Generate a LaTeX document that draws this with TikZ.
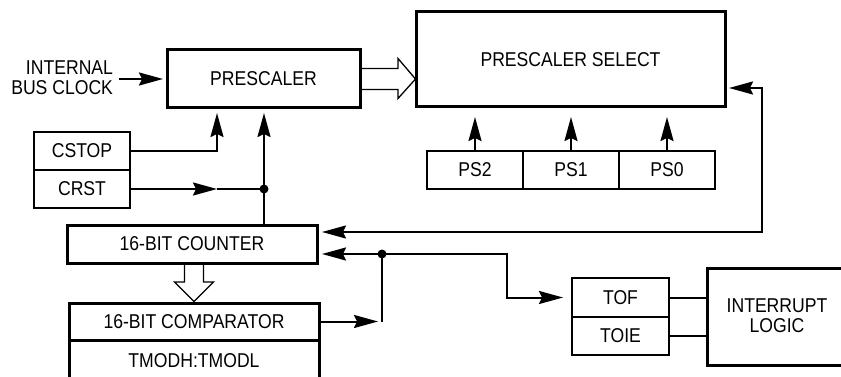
\documentclass[tikz,border=0pt]{standalone}
\usepackage{fontspec}
\setmainfont[FakeStretch=0.88]{Liberation Sans}
\usetikzlibrary{arrows.meta,calc}
\begin{document}
\begin{tikzpicture}[x=1pt,y=-1pt,
  every node/.style={font=\fontsize{20}{20}\selectfont, inner sep=0pt, outer sep=0pt},
  thickbox/.style={draw, line width=3pt},
  thinbox/.style={draw, line width=2pt},
  conn/.style={line width=2pt},
  >={Stealth[length=24pt,width=13pt,inset=3pt]},
  arr/.style={conn, ->},
  hollow/.style={line width=1.3pt, line join=miter}
]
\useasboundingbox (0,0) rectangle (841,377);

% boxes
\node[thickbox, minimum width=193pt, minimum height=58pt] (presc) at (263.5,79) {PRESCALER};
\node[thickbox, minimum width=309pt, minimum height=95pt] (pss) at (570.5,59.5) {PRESCALER SELECT};
\node[align=right, anchor=east] (ibc) at (113,78) {INTERNAL\\BUS CLOCK};
\node[thinbox, minimum width=96pt, minimum height=38pt] (cstop) at (82,151) {CSTOP};
\node[thinbox, minimum width=96pt, minimum height=38pt] (crst) at (82,189) {CRST};
\node[thickbox, minimum width=250pt, minimum height=38pt] (counter) at (192,244) {16-BIT COUNTER};
\node[thickbox, minimum width=250pt, minimum height=37pt] (comp) at (194,321.5) {16-BIT COMPARATOR};
\draw[line width=3pt] (comp.south west) -- ++(0,60);
\draw[line width=3pt] (comp.south east) -- ++(0,60);
\node (tmod) at (194,360.5) {TMODH:TMODL};
\node[thinbox, minimum width=96pt, minimum height=38pt] (ps2) at (475,170) {PS2};
\node[thinbox, minimum width=96pt, minimum height=38pt] (ps1) at (571,170) {PS1};
\node[thinbox, minimum width=96pt, minimum height=38pt] (ps0) at (667,170) {PS0};
\node[thinbox, minimum width=97pt, minimum height=38.5pt] (tof) at (620.5,297.5) {TOF};
\node[thinbox, minimum width=97pt, minimum height=38.5pt] (toie) at (620.5,336) {TOIE};
\node[thickbox, minimum width=180pt, minimum height=97pt, anchor=west] (il) at (707,316.5) {};
\node[align=center] (iltext) at (777,316) {INTERRUPT\\LOGIC};

% coordinates
\coordinate (pa) at ($(presc.south)+(-46.5,0)$);
\coordinate (dot1) at (264,189);
\coordinate (mid1) at (217,189);
\coordinate (fbR) at (762,232);
\coordinate (fbT) at (762,88);
\coordinate (cmpT) at (378,321.5);
\coordinate (dot2) at (382,254);
\coordinate (bend) at (507,254);

% connectors
\draw[arr, shorten >=4pt] ($(ibc.east)+(6,1)$) -- (presc.west);
\draw[arr, shorten >=5pt] (cstop.east) -| (pa);
\draw[arr] (crst.east) -- (mid1);
\draw[conn] (mid1) -- (dot1);
\draw[arr, shorten >=5pt] (counter.north -| dot1) -- (presc.south -| dot1);
\fill (dot1) circle (4.5pt);

\foreach \p in {ps2,ps1,ps0}
  \draw[arr, shorten >=10pt] (\p.north) -- (pss.south -| \p.north);

\draw[conn, <->, shorten <=5pt, shorten >=4pt] (counter.east |- fbR) -- (fbR) -- (fbT) -- (pss.east |- fbT);

\draw[arr] (comp.east) -- (cmpT);
\draw[conn] (dot2 |- cmpT) -- (dot2);
\draw[arr, shorten >=5pt] (dot2) -- (counter.east |- dot2);
\draw[arr, shorten >=9pt] (dot2) -- (bend) |- (tof.west);
\fill (dot2) circle (4.5pt);

\draw[conn] (tof.east) -- (tof.east -| il.west);
\draw[conn] (toie.east) -- (toie.east -| il.west);

% hollow bus arrows
\draw[hollow] ($(presc.east)+(1.5,-10.5)$) -- ($(presc.east)+(38,-10.5)$) -- ($(presc.east)+(38,-20.5)$)
  -- ($(pss.west |- presc.east)+(-0.5,0)$) -- ($(presc.east)+(38,19.5)$) -- ($(presc.east)+(38,10.5)$) -- ($(presc.east)+(1.5,10.5)$);
\coordinate (ha) at (counter.south -| comp.north);
\draw[hollow] ($(ha)+(-9.5,1.5)$) -- ($(ha)+(-9.5,19)$) -- ($(ha)+(-19.5,19)$) -- ($(comp.north)+(0,-1.5)$)
  -- ($(ha)+(19.5,19)$) -- ($(ha)+(9.5,19)$) -- ($(ha)+(9.5,1.5)$);
\end{tikzpicture}
\end{document}
